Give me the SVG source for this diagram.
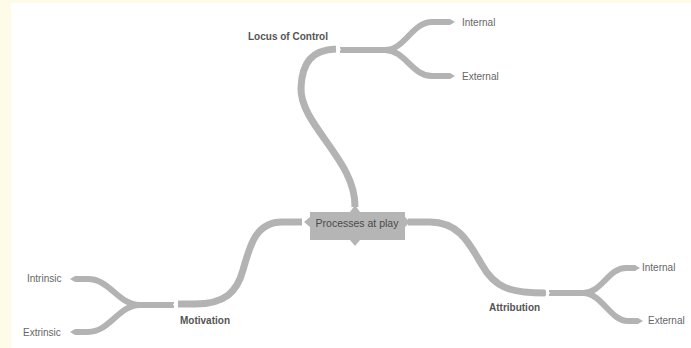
<svg xmlns="http://www.w3.org/2000/svg" width="691" height="348" viewBox="0 0 691 348">
<defs>
<style>
.br{fill:none;stroke:#b3b3b3;stroke-width:7;stroke-linecap:butt}
.lf{fill:none;stroke:#b3b3b3;stroke-width:6;stroke-linecap:butt}
.tip{fill:#b3b3b3}
.notch{fill:none;stroke:#ffffff;stroke-width:1.6}
.leaf{font-family:"Liberation Sans",Arial,sans-serif;font-size:10px;fill:#666}
.main{font-family:"Liberation Sans",Arial,sans-serif;font-size:10px;font-weight:bold;fill:#555}
.ctr{font-family:"Liberation Sans",Arial,sans-serif;font-size:10.5px;fill:#4a4a4a}
</style>
</defs>
<rect x="0" y="0" width="691" height="348" fill="#fffbe9"/>
<rect x="11" y="3" width="680" height="345" fill="#ffffff"/>
<g id="connectors">
<path class="br" d="M355,207 C356,160 300,125 301,88 C302,62 312,50 336,49"/>
<path class="lf" d="M340,50 L385,50 C405,50 412,22 432,22 L450,22"/>
<path class="lf" d="M385,50 C405,50 412,76 432,76 L450,76"/>
<polygon class="tip" points="450,19 455,22 450,25"/>
<polygon class="tip" points="450,73 455,76 450,79"/>
<path class="br" d="M302,222 L282,222 C256,222 250,245 243,270 C237,292 225,304 195,304 L178,304"/>
<path class="lf" d="M174,305 L140,305 C118,305 110,279 88,279 L75,279"/>
<path class="lf" d="M140,305 C118,305 110,332 88,332 L75,332"/>
<polygon class="tip" points="75,276 70,279 75,282"/>
<polygon class="tip" points="75,329 70,332 75,335"/>
<path class="br" d="M408,222 L430,222 C460,222 470,245 482,265 C495,288 510,293 546,293"/>
<path class="lf" d="M549,293 L583,293 C602,293 608,268 626,268 L635,268"/>
<path class="lf" d="M583,293 C602,293 610,321 628,321 L638,321"/>
<polygon class="tip" points="635,265 640,268 635,271"/>
<polygon class="tip" points="638,318 643,321 638,324"/>
<polyline class="notch" points="336,45 340,49.5 336,54"/>
<polyline class="notch" points="178,300 174,304.5 178,309"/>
<polyline class="notch" points="545,288.5 549,293 545,297.5"/>
</g>
<g id="center">
<rect x="310" y="212" width="95" height="28" fill="#b5b5b5"/>
<polygon points="350,212 355,205 360,212" fill="#b5b5b5"/>
<polygon points="350,240 355,246 360,240" fill="#b5b5b5"/>
<polygon points="310,217 304,222 310,227" fill="#b5b5b5"/>
<polygon points="405,217 410,222 405,227" fill="#b5b5b5"/>
<text class="ctr" x="357" y="226.5" text-anchor="middle">Processes at play</text>
</g>
<g id="locus">
<text class="main" x="248" y="39.5">Locus of Control</text>
</g>
<g id="locus-internal"><text class="leaf" x="462" y="25.5">Internal</text></g>
<g id="locus-external"><text class="leaf" x="462" y="79.5">External</text></g>
<g id="motivation">
<text class="main" x="180" y="324">Motivation</text>
</g>
<g id="intrinsic"><text class="leaf" x="27" y="282">Intrinsic</text></g>
<g id="extrinsic"><text class="leaf" x="23" y="335.5">Extrinsic</text></g>
<g id="attribution">
<text class="main" x="489" y="311">Attribution</text>
</g>
<g id="attr-internal"><text class="leaf" x="642" y="271">Internal</text></g>
<g id="attr-external"><text class="leaf" x="648" y="324">External</text></g>
</svg>
